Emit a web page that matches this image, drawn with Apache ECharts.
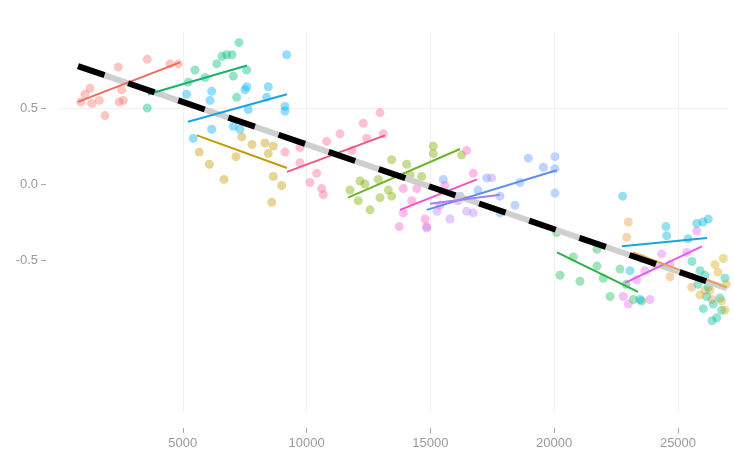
<!DOCTYPE html>
<html>
<head>
<meta charset="utf-8">
<script src="https://cdn.jsdelivr.net/npm/echarts@6/dist/echarts.min.js"></script>
<style>html,body{margin:0;padding:0;background:#fff}#c{width:734px;height:453px}</style>
</head>
<body>
<div id="c"></div>
<script>
// ---- tick labels ----
const xTickValues = [5000, 10000, 15000, 20000, 25000];
const yTickValues = [-0.5, 0, 0.5];

// ---- group names ----
const groupNames = ['g01','g02','g03','g04','g05','g06','g07','g08','g09','g10','g11','g12','g13','g14','g15'];

// ---- point values per group (x, y) ----
const g01X = [876,1050,1252,1321,1628,1858,2395,2435,2532,2597,3566,4483,4818];
const g01Y = [0.54,0.59,0.63,0.53,0.55,0.45,0.77,0.54,0.62,0.55,0.82,0.79,0.79];
const g02X = [3566,5222,5493,5897,6369,6583,6773,6987,7270,7040,7581,7177];
const g02Y = [0.50,0.67,0.75,0.70,0.79,0.84,0.85,0.85,0.93,0.71,0.75,0.57];
const g03X = [5157,6167,6099,5424,6167,7040,7581,7512,8453,7645,8389,9128,9128,9196,7310];
const g03Y = [0.59,0.61,0.55,0.30,0.36,0.38,0.64,0.62,0.64,0.49,0.57,0.51,0.48,0.85,0.36];
const g04X = [5666,6070,6664,7149,7379,7795,8320,8655,8453,8655,8994,8591];
const g04Y = [0.21,0.13,0.03,0.18,0.31,0.26,0.27,0.25,0.20,0.05,-0.01,-0.12];
const g05X = [9128,9733,9733,10137,10408,10610,10675,10812,11349,11834,12290,12427,12965,13098];
const g05Y = [0.21,0.24,0.14,0.01,0.07,-0.03,-0.07,0.28,0.33,0.22,0.40,0.30,0.47,0.33];
const g06X = [11753,12157,12359,12088,12561,12896,12965,13300,13437,13437,14043,14176,14649,15117,15117,16264];
const g06Y = [-0.04,0.02,0.00,-0.11,-0.17,0.03,-0.09,-0.04,0.16,-0.08,0.13,0.06,0.05,0.25,0.20,0.19];
const g07X = [13744,13906,13906,14245,14447,14782,14850,15388,15590,16466,16733];
const g07Y = [-0.28,-0.03,-0.19,-0.11,-0.03,-0.23,-0.28,-0.14,-0.01,0.22,0.07];
const g08X = [15521,16195,16922,17274,17811,17811,18417,18619,18954,19560,20032,20032,20032];
const g08Y = [0.03,-0.08,-0.04,0.04,-0.08,-0.19,-0.14,0.01,0.17,0.11,0.18,0.10,-0.06];
const g09X = [14850,15266,15791,16114,16466,16733,17476];
const g09Y = [-0.29,-0.18,-0.23,-0.11,-0.18,-0.19,0.04];
const g10X = [20101,20234,20771,21042,21728,21728,21983,22254,22658,22900,23195,23534];
const g10Y = [-0.32,-0.60,-0.48,-0.64,-0.43,-0.54,-0.62,-0.74,-0.56,-0.66,-0.76,-0.77];
const g11X = [22765,23061,23465,24515,24543,25404,25755,26010,26224];
const g11Y = [-0.08,-0.57,-0.76,-0.28,-0.34,-0.36,-0.26,-0.25,-0.23];
const g12X = [22791,22993,23332,23667,23869,24342,24677,25352,25756];
const g12Y = [-0.74,-0.79,-0.63,-0.57,-0.76,-0.46,-0.53,-0.45,-0.31];
const g13X = [22928,22993,23534,24071,24677,25553,26090,26373];
const g13Y = [-0.35,-0.25,-0.49,-0.53,-0.61,-0.68,-0.70,-0.76];
const g14X = [25565,25808,25888,26022,26090,26159,26224,26373,26426,26563,26696,26765,26898];
const g14Y = [-0.51,-0.66,-0.57,-0.82,-0.60,-0.74,-0.68,-0.90,-0.79,-0.88,-0.75,-0.83,-0.62];
const g15X = [25888,26292,26494,26615,26765,26830,26898,26950];
const g15Y = [-0.73,-0.70,-0.53,-0.58,-0.77,-0.49,-0.83,-0.66];

// ---- fitted line end points per group (x0, y0, x1, y1); null = no line ----
const fitX0 = [767, 3595, 5210, 5574, 9208, 11672, 13772, 14850, 14984, 20113, 22738, 22859, 23182, null, null];
const fitY0 = [0.54, 0.59, 0.41, 0.32, 0.08, -0.09, -0.17, -0.17, -0.13, -0.45, -0.41, -0.65, -0.45, null, null];
const fitX1 = [4887, 7593, 9208, 9208, 13166, 16195, 16882, 20101, 17811, 23384, 26171, 25969, 26966, null, null];
const fitY1 = [0.80, 0.78, 0.59, 0.105, 0.32, 0.23, 0.03, 0.09, -0.07, -0.71, -0.355, -0.41, -0.68, null, null];

// ---- overall fitted line ----
const overallX = [767, 26966];
const overallY = [0.776, -0.686];

const pointsX = [g01X,g02X,g03X,g04X,g05X,g06X,g07X,g08X,g09X,g10X,g11X,g12X,g13X,g14X,g15X];
const pointsY = [g01Y,g02Y,g03Y,g04Y,g05Y,g06Y,g07Y,g08Y,g09Y,g10Y,g11Y,g12Y,g13Y,g14Y,g15Y];

const pointColors = ['#F8766D','#00BF7D','#00B0F6','#C49A00','#FF6C91','#7CAE00','#FF61C3','#619CFF','#B983FF','#1FBF5A','#00B4D8','#E76BF3','#EE9A45','#00C19A','#D4AE1E'];
const lineColors  = ['#EE6A60','#14B46C','#1EA2E6','#C49A00','#F2557F','#6CB52A','#F550C8','#5C8CF0','#A77EF5','#2BB04A','#1AA5D8','#E65AF0','#E8A050',null,null];

const series = [];
groupNames.forEach((name, i) => {
  series.push({
    type: 'scatter', name: name,
    data: pointsX[i].map((x, k) => [x, pointsY[i][k]]),
    symbolSize: 9,
    itemStyle: { color: pointColors[i], opacity: 0.42 },
    silent: true, z: 2
  });
});
series.push({
  type: 'line', data: overallX.map((x, k) => [x, overallY[k]]),
  symbol: 'none', lineStyle: { color: '#cfcfcf', width: 6, cap: 'butt' }, z: 3, silent: true
});
groupNames.forEach((name, i) => {
  if (fitX0[i] === null) return;
  series.push({
    type: 'line', name: name + '_fit',
    data: [[fitX0[i], fitY0[i]], [fitX1[i], fitY1[i]]],
    symbol: 'none', lineStyle: { color: lineColors[i], width: 2 }, z: 4, silent: true
  });
});
series.push({
  type: 'line', data: overallX.map((x, k) => [x, overallY[k]]),
  symbol: 'none', lineStyle: { color: '#000', width: 6, type: [28, 25], cap: 'butt' }, z: 5, silent: true
});

const gl = '#f0f0f0';
const chart = echarts.init(document.getElementById('c'), null, { renderer: 'canvas' });
chart.setOption({
  animation: false,
  backgroundColor: '#fff',
  grid: { left: 59, right: 6.5, top: 32, bottom: 41, containLabel: false },
  xAxis: {
    type: 'value', min: 0, max: 27000, interval: 2500, offset: 16,
    axisLine: { show: false, onZero: false },
    axisTick: { show: true, length: 5, customValues: xTickValues, lineStyle: { color: '#a8a8a8' } },
    axisLabel: { customValues: xTickValues, margin: 9, color: '#9a9a9a', fontSize: 13, fontFamily: 'Liberation Sans, Arial, sans-serif',
      formatter: v => String(v) },
    splitLine: { show: true, lineStyle: { color: gl, width: 1 } }
  },
  yAxis: {
    type: 'value', min: -1.5, max: 1.0, interval: 0.25, offset: 13,
    axisLine: { show: false, onZero: false },
    axisTick: { show: true, length: 5, customValues: yTickValues, lineStyle: { color: '#a8a8a8' } },
    axisLabel: { customValues: yTickValues, margin: 8, color: '#9a9a9a', fontSize: 13, fontFamily: 'Liberation Sans, Arial, sans-serif',
      formatter: v => v.toFixed(1) },
    splitLine: { show: true, lineStyle: { color: ['#ffffff','#ffffff',gl,gl,gl,gl,gl,gl,gl,gl,gl], width: 1 } }
  },
  series: series
});
</script>
</body>
</html>
